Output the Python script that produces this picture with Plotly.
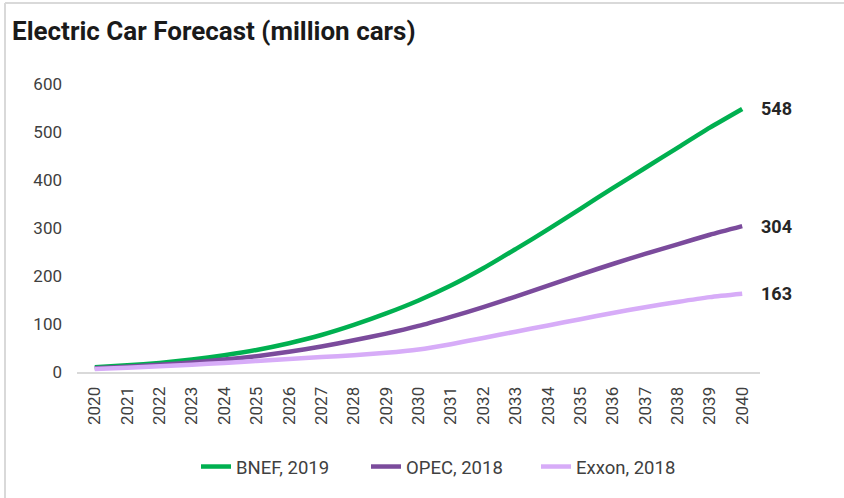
import plotly.graph_objects as go

# Forecast years and series (million cars)
years = list(range(2020, 2041))
bnef_2019 = [10, 14, 19, 26, 35, 46, 60, 77, 98, 122, 149, 180, 216, 256, 297, 340, 383, 425, 467, 509, 548]
opec_2018 = [8, 11, 15, 20, 26, 33, 42, 53, 66, 80, 96, 115, 135, 157, 180, 203, 225, 246, 266, 286, 304]
exxon_2018 = [6, 9, 12, 15, 19, 23, 27, 31, 35, 40, 47, 58, 71, 84, 97, 110, 123, 135, 146, 156, 163]

series_names = ["BNEF, 2019", "OPEC, 2018", "Exxon, 2018"]
series_values = [bnef_2019, opec_2018, exxon_2018]
series_colors = ["#00B050", "#7B4B9C", "#D7ACF8"]

y_ticks = [0, 100, 200, 300, 400, 500, 600]

W, H = 844, 498
L, R, T, B = 77, 84, 84, 126
plot_w = W - L - R
plot_h = H - T - B

FONT = "Roboto"

fig = go.Figure()
for name, vals, col in zip(series_names, series_values, series_colors):
    fig.add_trace(go.Scatter(
        x=years, y=vals, name=name, mode="lines",
        line=dict(color=col, width=4.5, shape="spline", smoothing=0.6),
        hoverinfo="x+y+name",
    ))

# End-of-line value labels
for vals in series_values:
    fig.add_annotation(
        x=years[-1], y=vals[-1], text=f"<b>{vals[-1]}</b>",
        showarrow=False, xanchor="left", yanchor="middle", xshift=17,
        font=dict(family=FONT, size=18, color="#262626"),
    )

# Light frame along the top and left edges
def px_x(px):
    return (px - L) / plot_w

def px_y(py):
    return (H - B - py) / plot_h

fig.add_shape(type="line", xref="paper", yref="paper",
              x0=px_x(5), x1=px_x(W + 5), y0=px_y(3), y1=px_y(3),
              line=dict(color="#D9D9D9", width=2))
fig.add_shape(type="line", xref="paper", yref="paper",
              x0=px_x(5), x1=px_x(5), y0=px_y(3), y1=px_y(H + 5),
              line=dict(color="#D9D9D9", width=2))

fig.update_layout(
    width=W, height=H,
    margin=dict(l=L, r=R, t=T, b=B),
    paper_bgcolor="white", plot_bgcolor="white",
    title=dict(
        text="<b>Electric Car Forecast (million cars)</b>",
        x=12 / W, xanchor="left", xref="container",
        y=1 - 31 / H, yanchor="middle", yref="container",
        font=dict(family=FONT, size=26, color="#1A1A1A"),
    ),
    font=dict(family=FONT, color="#404040"),
    showlegend=True,
    legend=dict(
        orientation="h", x=px_x(196), xanchor="left", y=px_y(467), yanchor="middle",
        font=dict(family=FONT, size=18.5, color="#404040"),
        entrywidth=125, entrywidthmode="pixels", traceorder="normal",
    ),
    xaxis=dict(
        range=[2019.45, 2040.55], tickvals=years, tickmode="array",
        tickangle=-90, showgrid=False, zeroline=False,
        showline=True, linecolor="#D9D9D9", linewidth=2,
        ticks="", tickfont=dict(family=FONT, size=17, color="#404040"),
        ticklabelstandoff=6,
    ),
    yaxis=dict(
        range=[0, 600], tickvals=y_ticks, showgrid=False, zeroline=False,
        showline=False, ticks="", tickfont=dict(family=FONT, size=17, color="#404040"),
        ticklabelstandoff=14,
    ),
)

fig.write_html("out.html")
